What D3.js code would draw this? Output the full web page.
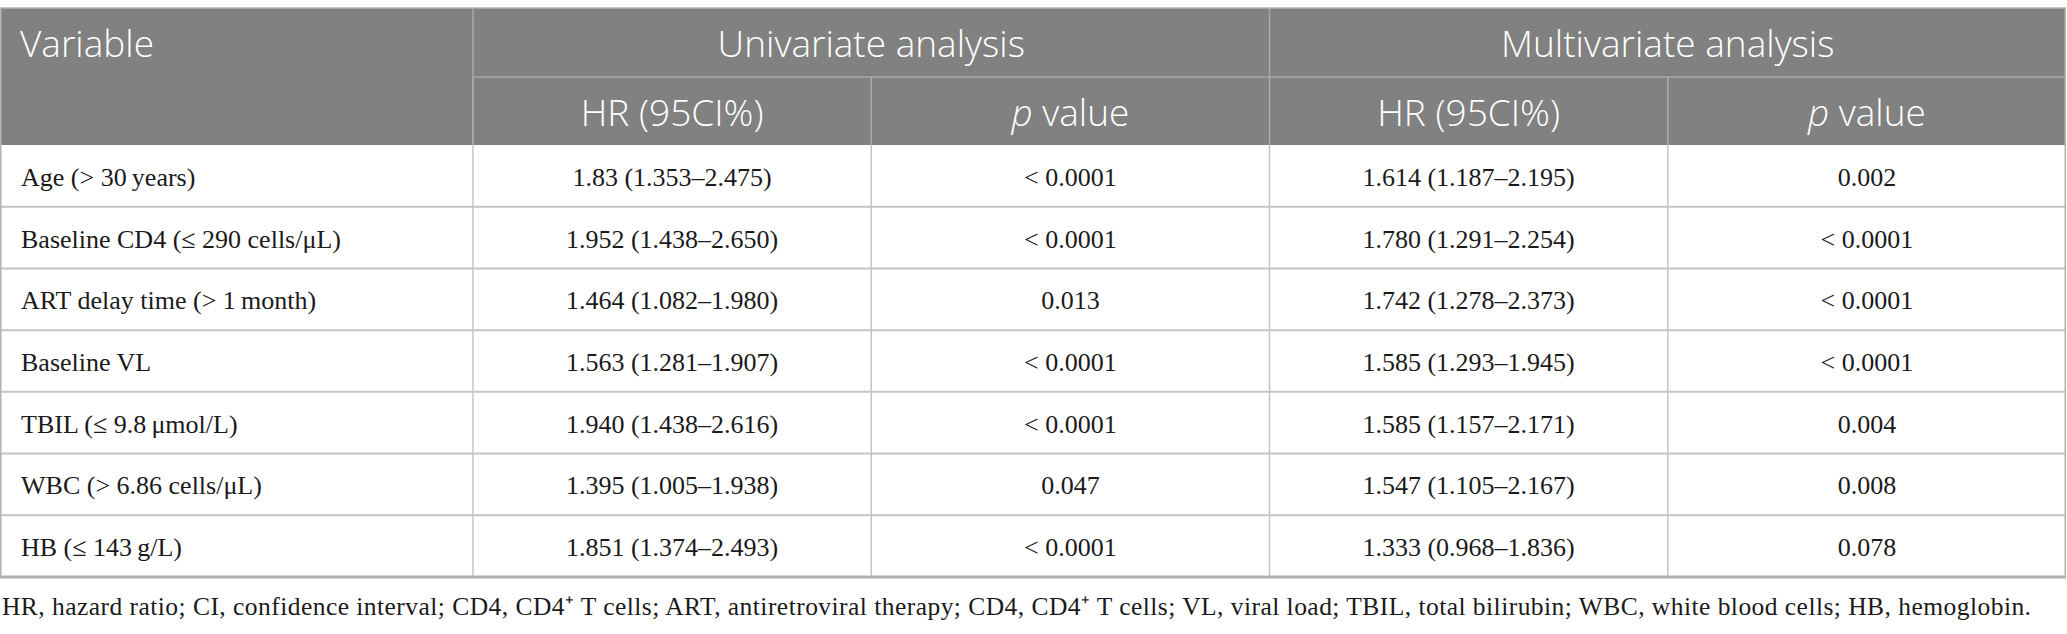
<!DOCTYPE html>
<html>
<head>
<meta charset="utf-8">
<script src="https://cdn.jsdelivr.net/npm/d3@7"></script>
<style>
  body { margin: 0; background: #fff; }
</style>
</head>
<body>
<div id="container"></div>
<script>
/* DATA */
const variables = [
  "Age (> 30\u2009years)",
  "Baseline CD4 (\u2264 290 cells/\u03bcL)",
  "ART delay time (> 1\u2009month)",
  "Baseline VL",
  "TBIL (\u2264 9.8\u2009\u03bcmol/L)",
  "WBC (> 6.86 cells/\u03bcL)",
  "HB (\u2264 143\u2009g/L)"
]
const uniHR = ["1.83 (1.353\u20132.475)", "1.952 (1.438\u20132.650)", "1.464 (1.082\u20131.980)",
  "1.563 (1.281\u20131.907)", "1.940 (1.438\u20132.616)", "1.395 (1.005\u20131.938)", "1.851 (1.374\u20132.493)"]
const uniP = ["< 0.0001", "< 0.0001", "0.013", "< 0.0001", "< 0.0001", "0.047", "< 0.0001"]
const multiHR = ["1.614 (1.187\u20132.195)", "1.780 (1.291\u20132.254)", "1.742 (1.278\u20132.373)",
  "1.585 (1.293\u20131.945)", "1.585 (1.157\u20132.171)", "1.547 (1.105\u20132.167)", "1.333 (0.968\u20131.836)"]
const multiP = ["0.002", "< 0.0001", "< 0.0001", "< 0.0001", "0.004", "0.008", "0.078"]
const groupLabels = ["Univariate analysis", "Multivariate analysis"]
const subLabels = ["HR (95CI%)", "p value", "HR (95CI%)", "p value"]
const footnote = "HR, hazard ratio; CI, confidence interval; CD4, CD4\u207a T cells; ART, antiretroviral therapy; CD4, CD4\u207a T cells; VL, viral load; TBIL, total bilirubin; WBC, white blood cells; HB, hemoglobin."

/* CONSTANTS */
const width = 2067, height = 634
const tTop = 8, headMid = 77, headBottom = 145, tableBottom = 577
const tLeft = 0, tRight = 2066, firstCol = 473
const headFont = "'Open Sans', 'Noto Sans', sans-serif"
const bodyFont = "'Liberation Serif', 'Times New Roman', serif"
const headSize = 37

const columns = [variables, uniHR, uniP, multiHR, multiP]

// SCALES
const xCols = d3.scaleBand()
  .domain(d3.range(1, 5))
  .range([firstCol, tRight])
const yRows = d3.scaleBand()
  .domain(d3.range(variables.length))
  .range([headBottom, tableBottom])

const svg = d3.select("#container")
  .append("svg")
  .attr("width", width)
  .attr("height", height)

// header background
svg.append("rect")
  .attr("x", tLeft).attr("y", tTop)
  .attr("width", tRight - tLeft).attr("height", headBottom - tTop)
  .attr("fill", "#808180")

// header lines
const headLine = "#a9aaa9"
svg.append("line")
  .attr("x1", firstCol).attr("x2", tRight)
  .attr("y1", headMid).attr("y2", headMid)
  .attr("stroke", headLine).attr("stroke-width", 1.5)
svg.selectAll(".hvline")
  .data(d3.range(1, 5))
  .join("line")
  .attr("class", "hvline")
  .attr("x1", d => xCols(d)).attr("x2", d => xCols(d))
  .attr("y1", d => d === 3 ? tTop : headMid)
  .attr("y2", headBottom)
  .attr("stroke", headLine).attr("stroke-width", 1.5)
svg.append("line")
  .attr("x1", firstCol).attr("x2", firstCol)
  .attr("y1", tTop).attr("y2", headBottom)
  .attr("stroke", headLine).attr("stroke-width", 1.5)

// header text
svg.append("text")
  .attr("x", 20).attr("y", 57)
  .attr("font-family", headFont).attr("font-size", headSize).attr("font-weight", 300)
  .attr("fill", "#fff")
  .text("Variable")

svg.selectAll(".group")
  .data(groupLabels)
  .join("text")
  .attr("class", "group")
  .attr("x", (d, i) => xCols(1 + i * 2) + xCols.bandwidth())
  .attr("y", 57)
  .attr("text-anchor", "middle")
  .attr("font-family", headFont).attr("font-size", headSize).attr("font-weight", 300)
  .attr("fill", "#fff")
  .text(d => d)

const sub = svg.selectAll(".sub")
  .data(subLabels)
  .join("text")
  .attr("class", "sub")
  .attr("x", (d, i) => xCols(i + 1) + xCols.bandwidth() / 2)
  .attr("y", 126)
  .attr("text-anchor", "middle")
  .attr("font-family", headFont).attr("font-size", headSize).attr("font-weight", 300)
  .attr("fill", "#fff")
sub.each(function (d) {
  const t = d3.select(this)
  if (d.startsWith("p ")) {
    t.append("tspan").attr("font-style", "italic").text("p")
    t.append("tspan").text(" value")
  } else {
    t.text(d)
  }
})

// body grid
const gridColor = "#c4c4c4"
svg.selectAll(".rowline")
  .data(d3.range(1, variables.length))
  .join("line")
  .attr("class", "rowline")
  .attr("x1", tLeft).attr("x2", tRight)
  .attr("y1", d => yRows(d)).attr("y2", d => yRows(d))
  .attr("stroke", gridColor).attr("stroke-width", 2)
svg.selectAll(".colline")
  .data(d3.range(1, 5))
  .join("line")
  .attr("class", "colline")
  .attr("x1", d => xCols(d)).attr("x2", d => xCols(d))
  .attr("y1", headBottom).attr("y2", tableBottom)
  .attr("stroke", gridColor).attr("stroke-width", 1.5)
// outer border
svg.append("rect")
  .attr("x", tLeft + 0.75).attr("y", tTop)
  .attr("width", tRight - tLeft - 1.5).attr("height", tableBottom - tTop)
  .attr("fill", "none")
  .attr("stroke", "#b3b3b3").attr("stroke-width", 1.5)
svg.append("line")
  .attr("x1", tLeft).attr("x2", tRight)
  .attr("y1", tableBottom).attr("y2", tableBottom)
  .attr("stroke", "#b0b0b0").attr("stroke-width", 3)

// body text
columns.forEach((col, c) => {
  svg.selectAll(".cell" + c)
    .data(col)
    .join("text")
    .attr("class", "cell" + c)
    .attr("x", c === 0 ? 21 : xCols(c) + xCols.bandwidth() / 2)
    .attr("y", (d, i) => yRows(i) + yRows.bandwidth() / 2 + 10)
    .attr("text-anchor", c === 0 ? "start" : "middle")
    .attr("font-family", bodyFont).attr("font-size", 26)
    .attr("fill", "#1a1a1a")
    .text(d => d)
})

// footnote
svg.append("text")
  .attr("x", 2).attr("y", 615)
  .attr("font-family", bodyFont).attr("font-size", 25.5)
  .attr("fill", "#1a1a1a")
  .attr("textLength", 2029).attr("lengthAdjust", "spacing")
  .text(footnote)
</script>
</body>
</html>
